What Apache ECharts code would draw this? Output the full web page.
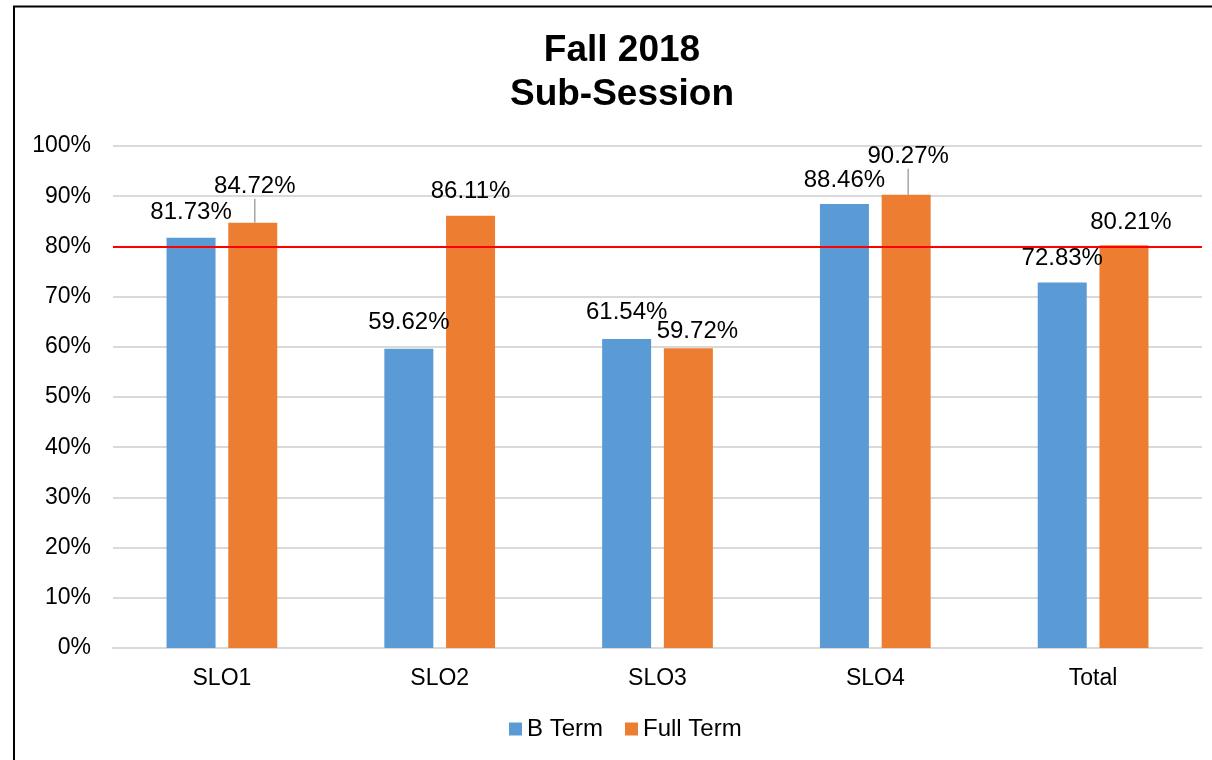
<!DOCTYPE html>
<html>
<head>
<meta charset="utf-8">
<script src="https://cdn.jsdelivr.net/npm/echarts@6/dist/echarts.min.js"></script>
<style>
  html, body { margin: 0; padding: 0; background: #fff; }
  #chart { width: 1212px; height: 760px; }
</style>
</head>
<body>
<div id="chart"></div>
<script>
const categories = ['SLO1', 'SLO2', 'SLO3', 'SLO4', 'Total'];
const bTerm = [81.73, 59.62, 61.54, 88.46, 72.83];
const fullTerm = [84.72, 86.11, 59.72, 90.27, 80.21];
const targetValue = 80;
const yTicks = [0, 10, 20, 30, 40, 50, 60, 70, 80, 90, 100];

// label nudges (px), like the hand-placed labels in the original
const bShift = [[0, -8], [0, -9], [0, -10], [0, -7], [0, -7]];
const fullShift = [[2, -19], [0, -7], [9, 0], [2, -21], [7, -6]];
const fullLeader = [true, false, false, true, false];

const chart = echarts.init(document.getElementById('chart'));
const font = 'Liberation Sans, Arial, sans-serif';

const labelStyle = {
  show: true,
  position: 'top',
  distance: 5,
  color: '#000',
  fontSize: 24,
  fontFamily: font,
  formatter: (p) => p.value.toFixed(2) + '%'
};

const option = {
  animation: false,
  backgroundColor: '#fff',
  title: {
    text: 'Fall 2018\nSub-Session',
    left: 617,
    textAlign: 'center',
    top: 24,
    textStyle: {
      fontFamily: font,
      fontSize: 37,
      fontWeight: 'bold',
      color: '#000',
      lineHeight: 44
    }
  },
  graphic: [{
    type: 'rect',
    shape: { x: 14, y: 6.5, width: 1400, height: 900 },
    style: { fill: 'none', stroke: '#000', lineWidth: 2 },
    silent: true
  }],
  legend: {
    bottom: 14,
    left: 504,
    itemWidth: 13,
    itemHeight: 13,
    itemGap: 22,
    icon: 'rect',
    textStyle: { fontFamily: font, fontSize: 24, color: '#000' },
    data: ['B Term', 'Full Term']
  },
  grid: { left: 113, right: 10, top: 146, bottom: 112 },
  xAxis: {
    type: 'category',
    data: categories,
    axisTick: { show: false },
    axisLine: { lineStyle: { color: '#d9d9d9', width: 2 } },
    axisLabel: { color: '#000', fontSize: 23, fontFamily: font, margin: 19 }
  },
  yAxis: {
    type: 'value',
    min: yTicks[0],
    max: yTicks[yTicks.length - 1],
    interval: 10,
    axisLine: { show: false },
    axisTick: { show: false },
    splitLine: { lineStyle: { color: '#d9d9d9', width: 2 } },
    axisLabel: { color: '#000', fontSize: 23, fontFamily: font, margin: 22, formatter: '{value}%' }
  },
  series: [
    {
      name: 'B Term',
      type: 'bar',
      barWidth: 49,
      barGap: '26%',
      itemStyle: { color: '#5b9bd5' },
      label: labelStyle,
      labelLayout: (p) => ({ dx: bShift[p.dataIndex][0], dy: bShift[p.dataIndex][1] }),
      data: bTerm,
      markLine: {
        silent: true,
        symbol: 'none',
        label: { show: false },
        lineStyle: { color: '#ff0000', width: 2, type: 'solid' },
        data: [{ yAxis: targetValue }]
      }
    },
    {
      name: 'Full Term',
      type: 'bar',
      barWidth: 49,
      itemStyle: { color: '#ed7d31' },
      label: labelStyle,
      labelLayout: (p) => ({ dx: fullShift[p.dataIndex][0], dy: fullShift[p.dataIndex][1] }),
      data: fullTerm.map((v, i) => ({
        value: v,
        labelLine: { show: fullLeader[i], lineStyle: { color: '#a6a6a6', width: 1.5 } }
      }))
    }
  ]
};

chart.setOption(option);
</script>
</body>
</html>
